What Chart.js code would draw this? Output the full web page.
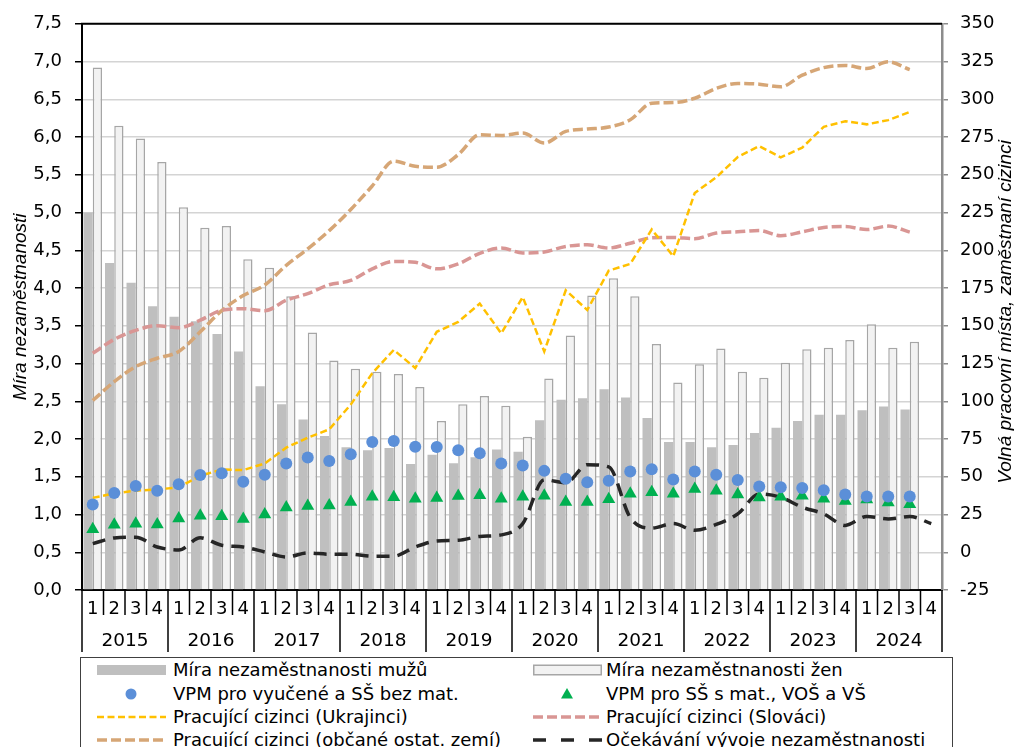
<!DOCTYPE html>
<html>
<head>
<meta charset="utf-8">
<script src="https://cdn.jsdelivr.net/npm/chart.js@4.4.1/dist/chart.umd.min.js"></script>
<style>
  body { margin: 0; background: #fff; }
  #wrap { position: relative; width: 1014px; height: 747px; overflow: hidden; }
  #chart { position: absolute; left: 0; top: 0; }
  #legend {
    position: absolute; left: 80px; top: 657px; width: 873px; height: 110px;
    border: 1.5px solid #404040; box-sizing: border-box;
    font-family: "DejaVu Sans", sans-serif; font-size: 18px; color: #000;
  }
  .item { position: absolute; height: 22px; line-height: 22px; white-space: nowrap; }
  .item svg { position: absolute; left: 0; top: 1px; }
  .item span { position: absolute; top: 0; }
</style>
</head>
<body>
<div id="wrap">
  <canvas id="chart" width="1014" height="657"></canvas>
  <div id="legend"></div>
</div>
<script>
// ---- data ----
const years = ['2015', '2016', '2017', '2018', '2019', '2020', '2021', '2022', '2023', '2024'];
const quarters = [];
years.forEach(() => quarters.push('1', '2', '3', '4'));

// left axis (%)
const menRate = [5.00, 4.33, 4.07, 3.76, 3.62, 3.56, 3.39, 3.16, 2.70, 2.46, 2.26, 2.04, 1.89, 1.85, 1.88, 1.67,
  1.79, 1.68, 1.76, 1.86, 1.83, 2.25, 2.52, 2.54, 2.66, 2.55, 2.28, 1.96, 1.96, 1.89, 1.92, 2.08,
  2.15, 2.24, 2.32, 2.32, 2.38, 2.43, 2.39, null];
const womenRate = [6.92, 6.15, 5.98, 5.67, 5.07, 4.80, 4.82, 4.38, 4.27, 3.89, 3.41, 3.04, 2.93, 2.89, 2.86, 2.69,
  2.24, 2.46, 2.57, 2.44, 2.03, 2.80, 3.37, 3.90, 4.13, 3.89, 3.26, 2.75, 2.99, 3.20, 2.89, 2.81,
  3.01, 3.19, 3.21, 3.31, 3.52, 3.21, 3.29, null];

// right axis (thousands)
const vpmVyucene = [31.6, 39.3, 43.9, 40.8, 45.0, 51.1, 52.4, 46.7, 51.3, 58.8, 62.7, 60.5, 64.9, 73.0, 73.7, 69.9,
  69.7, 67.5, 65.6, 58.8, 57.4, 53.9, 48.7, 46.3, 47.4, 53.5, 55.0, 48.2, 53.5, 51.3, 47.8, 43.6,
  43.0, 42.6, 41.0, 38.2, 37.0, 36.9, 36.9, null];
const vpmMaturita = [15.3, 18.2, 18.9, 18.4, 22.4, 24.1, 23.9, 22.1, 25.0, 29.6, 30.7, 30.9, 33.3, 36.8, 36.4, 35.5,
  36.0, 37.3, 37.7, 35.5, 36.8, 37.5, 33.3, 33.3, 35.1, 38.8, 39.7, 38.8, 41.9, 40.8, 38.2, 36.2,
  36.8, 37.5, 35.5, 34.0, 34.9, 32.9, 31.8, null];
const ukrajinci = [36, 39, 40.8, 41.6, 43, 50.7, 54.8, 54.4, 58.8, 69.3, 75.9, 81.4, 97.8, 118.6, 134, 122,
  146, 152.6, 164.7, 145, 169, 133, 173.5, 160.5, 186.5, 191, 213.8, 196, 238, 248.3, 261.8, 269,
  261.5, 268, 281.8, 285.5, 283.4, 286.2, 291.6, null];
const slovaci = [131.8, 141, 147, 150, 148.7, 153.7, 160.3, 161.3, 160, 166.9, 171.3, 177.2, 180, 187.7, 192.6, 192,
  187.7, 191, 198, 201.5, 198.2, 198.9, 202.5, 203.7, 201.5, 204.7, 208.3, 208.5, 207.7, 211.4, 212.2, 213.1,
  209.6, 212.2, 215.1, 215.7, 213.7, 216, 212, null];
const ostatni = [100.5, 113, 123, 128.5, 133, 146, 160, 170, 177, 190, 201, 213, 227, 242.6, 259, 255.6,
  255, 263.4, 276.5, 276, 277.6, 271, 278.7, 280.3, 281.6, 286.4, 297.4, 297.8, 300.7, 307.2, 310.5, 310,
  308.3, 316, 321, 322.4, 320.4, 324.8, 319.7, null];
const ocekavani = [5.7, 9.5, 10, 3.5, 1.5, 9.6, 4.6, 3.5, 0.2, -3.1, -0.5, -1.3, -1.3, -2.6, -2.6, 3.5,
  7.4, 7.9, 10.5, 11.5, 19, 48, 46, 58, 56.5, 23, 16, 19, 14.5, 18.4, 25.4, 38.6,
  36.4, 29.8, 25.4, 17.8, 23.7, 22.1, 23.7, 19];

const TICK_FONT = { family: '"DejaVu Sans", sans-serif', size: 18 };

// quarter/year separators, year labels, top frame and the right-hand title
const axisExtras = {
  id: 'axisExtras',
  afterDraw(chart) {
    const { ctx, chartArea: a, scales: { x } } = chart;
    const half = (x.getPixelForValue(1) - x.getPixelForValue(0)) / 2;
    ctx.save();
    ctx.strokeStyle = '#000';
    ctx.lineWidth = 2;
    ctx.beginPath();
    ctx.moveTo(a.left - 1, a.top);
    ctx.lineTo(a.right, a.top);
    ctx.stroke();

    ctx.lineWidth = 1.5;
    for (let i = 0; i <= quarters.length; i++) {
      const px = x.getPixelForValue(i) - half;
      const len = i % 4 === 0 ? 62 : 25;
      ctx.beginPath();
      ctx.moveTo(px, a.bottom);
      ctx.lineTo(px, a.bottom + len);
      ctx.stroke();
    }

    ctx.fillStyle = '#000';
    ctx.font = '18.5px "DejaVu Sans", sans-serif';
    ctx.textAlign = 'center';
    ctx.textBaseline = 'middle';
    years.forEach((yr, k) => {
      const c = (x.getPixelForValue(4 * k) + x.getPixelForValue(4 * k + 3)) / 2;
      ctx.fillText(yr, c, a.bottom + 51);
    });

    ctx.translate(1006, (a.top + a.bottom) / 2 + 5);
    ctx.rotate(-Math.PI / 2);
    ctx.font = 'italic 19px "Liberation Sans", Arial, sans-serif';
    ctx.fillText('Volná pracovní místa, zaměstnaní cizinci', 0, 0);
    ctx.restore();
  }
};

const lineDs = (label, data, color, width, dash, order, smooth) => ({
  type: 'line', label, data, yAxisID: 'y2', order,
  borderColor: color, borderWidth: width, borderDash: dash,
  pointRadius: 0, fill: false,
  cubicInterpolationMode: smooth ? 'monotone' : 'default', tension: 0
});

const pointDs = (label, data, color, style, radius) => ({
  type: 'line', label, data, yAxisID: 'y2', order: 1, showLine: false,
  pointStyle: style, pointRadius: radius, pointBackgroundColor: color,
  pointBorderWidth: 0, borderColor: color
});

new Chart(document.getElementById('chart'), {
  type: 'bar',
  data: {
    labels: quarters,
    datasets: [
      { label: 'Míra nezaměstnanosti mužů', data: menRate, yAxisID: 'y', order: 5,
        backgroundColor: '#bfbfbf', borderWidth: 0,
        barPercentage: 1, categoryPercentage: 0.86 },
      { label: 'Míra nezaměstnanosti žen', data: womenRate, yAxisID: 'y', order: 5,
        backgroundColor: '#f2f2f2', borderColor: '#a6a6a6', borderWidth: 1.5,
        barPercentage: 1, categoryPercentage: 0.86 },
      lineDs('Pracující cizinci (Ukrajinci)', ukrajinci, '#ffc000', 2.5, [7, 3.5], 3, false),
      lineDs('Pracující cizinci (Slováci)', slovaci, '#d99694', 3.5, [10, 4], 3, true),
      lineDs('Pracující cizinci (občané ostat. zemí)', ostatni, '#d6a676', 3.5, [10, 4], 3, true),
      lineDs('Očekávání vývoje nezaměstnanosti', ocekavani, '#262626', 3.5, [13, 8], 2, true),
      pointDs('VPM pro vyučené a SŠ bez mat.', vpmVyucene, '#5b8fd8', 'circle', 6),
      pointDs('VPM pro SŠ s mat., VOŠ a VŠ', vpmMaturita, '#00b050', 'triangle', 7.5)
    ]
  },
  options: {
    responsive: false,
    animation: false,
    devicePixelRatio: 1,
    layout: { padding: { top: 20, left: 0, right: 0, bottom: 0 } },
    plugins: { legend: { display: false }, tooltip: { enabled: false } },
    scales: {
      x: {
        grid: { display: false, drawTicks: false },
        border: { display: true, color: '#000', width: 2 },
        ticks: { font: TICK_FONT, color: '#000', padding: 9, maxRotation: 0, autoSkip: false },
        afterFit: s => { s.height = 67; }
      },
      y: {
        position: 'left', min: 0, max: 7.5,
        ticks: { stepSize: 0.5, font: TICK_FONT, color: '#000', padding: 13,
          callback: v => v.toFixed(1).replace('.', ',') },
        grid: { color: '#d4d4d4', lineWidth: 1.5, tickColor: '#000', tickLength: 7 },
        border: { color: '#000', width: 2 },
        title: { display: true, text: 'Míra nezaměstnanosti', color: '#000', padding: { top: 9, bottom: 0 },
          font: { family: '"Liberation Sans", Arial, sans-serif', size: 19, style: 'italic' } },
        afterFit: s => { s.width = 82; }
      },
      y2: {
        position: 'right', min: -25, max: 350,
        ticks: { stepSize: 25, font: TICK_FONT, color: '#000', padding: 12 },
        grid: { drawOnChartArea: false, tickColor: '#8c8c8c', tickLength: 6, lineWidth: 1.5 },
        border: { color: '#8c8c8c', width: 2.5 },
        afterFit: s => { s.width = 72; }
      }
    }
  },
  plugins: [axisExtras]
});

// ---- legend (two columns, same order as in the picture) ----
const legendItems = [
  { text: 'Míra nezaměstnanosti mužů', col: 0, row: 0,
    svg: '<rect x="0" y="5" width="69" height="10" fill="#bfbfbf"/>' },
  { text: 'Míra nezaměstnanosti žen', col: 1, row: 0,
    svg: '<rect x="0.75" y="5.25" width="67.5" height="9.5" fill="#f2f2f2" stroke="#a6a6a6" stroke-width="1.5"/>' },
  { text: 'VPM pro vyučené a SŠ bez mat.', col: 0, row: 1,
    svg: '<circle cx="34" cy="10" r="5.5" fill="#5b8fd8"/>' },
  { text: 'VPM pro SŠ s mat., VOŠ a VŠ', col: 1, row: 1,
    svg: '<polygon points="34,4 28,14.5 40,14.5" fill="#00b050"/>' },
  { text: 'Pracující cizinci (Ukrajinci)', col: 0, row: 2,
    svg: '<line x1="0" y1="10" x2="69" y2="10" stroke="#ffc000" stroke-width="2.5" stroke-dasharray="7 3.5"/>' },
  { text: 'Pracující cizinci (Slováci)', col: 1, row: 2,
    svg: '<line x1="0" y1="10" x2="69" y2="10" stroke="#d99694" stroke-width="3.5" stroke-dasharray="10 4"/>' },
  { text: 'Pracující cizinci (občané ostat. zemí)', col: 0, row: 3,
    svg: '<line x1="0" y1="10" x2="69" y2="10" stroke="#d6a676" stroke-width="3.5" stroke-dasharray="10 4"/>' },
  { text: 'Očekávání vývoje nezaměstnanosti', col: 1, row: 3,
    svg: '<line x1="0" y1="10" x2="69" y2="10" stroke="#262626" stroke-width="3.5" stroke-dasharray="13 15"/>' }
];
const colLeft = [16, 452];
const textOffset = [76, 73];
const rowTop = [1, 25, 48, 71];
const legendEl = document.getElementById('legend');
legendItems.forEach(it => {
  const d = document.createElement('div');
  d.className = 'item';
  d.style.left = colLeft[it.col] + 'px';
  d.style.top = rowTop[it.row] + 'px';
  d.innerHTML = '<svg width="70" height="20">' + it.svg + '</svg>' +
    '<span style="left:' + textOffset[it.col] + 'px"></span>';
  d.querySelector('span').textContent = it.text;
  legendEl.appendChild(d);
});
</script>
</body>
</html>
